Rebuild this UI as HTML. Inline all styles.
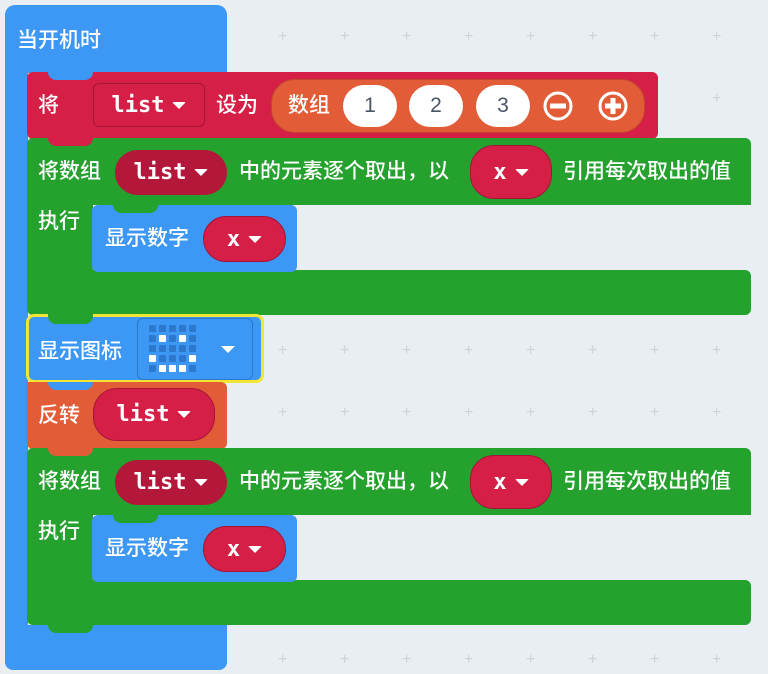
<!DOCTYPE html>
<html><head><meta charset="utf-8"><style>
body{margin:0;width:768px;height:674px;overflow:hidden;background:#e9eef2;position:relative;font-family:"Liberation Sans","Noto Sans CJK SC",sans-serif;}
.a{position:absolute;box-sizing:border-box}
.t{position:absolute;color:#fff;font-size:21px;line-height:24px;white-space:nowrap;font-weight:500}
.pl{position:absolute;color:#cdd3d8;font-size:16px;line-height:16px}
.blue{background:#3d98f5}
.red{background:#d61f47}
.green{background:#25a12e}
.org{background:#e15c37}
.pill{position:absolute;box-sizing:border-box;border-radius:24px;color:#fff;font-size:21px;display:flex;align-items:center;justify-content:center}
.mono{font-family:"DejaVu Sans Mono","Liberation Mono",monospace;font-weight:bold;font-size:22px}
.arr{display:inline-block;width:0;height:0;border-left:7px solid transparent;border-right:7px solid transparent;border-top:7px solid #fff;margin-left:8px;border-radius:2px}
.notch{position:absolute;width:45px;height:8px;border-radius:0 0 8px 8px}
.c{position:absolute;width:7px;height:7px;border-radius:1px;background:#2b78cc}
.c.on{background:#fff}
</style></head><body>
<!-- hat -->
<div class="a blue" style="left:5px;top:5px;width:222px;height:68px;border-radius:10px 10px 0 0"></div>
<div class="a blue" style="left:5px;top:72px;width:23px;height:560px"></div>
<div class="a blue" style="left:5px;top:625px;width:222px;height:45px;border-radius:0 0 8px 8px"></div>
<div class="t" style="left:17px;top:29px">当开机时</div>

<!-- set block -->
<div class="a red" style="left:27px;top:72px;width:631px;height:67px;border-radius:6px"></div>
<div class="notch blue" style="left:48px;top:72px"></div>
<div class="t" style="left:38px;top:94px">将</div>
<div class="a" style="left:93px;top:83px;width:112px;height:44px;border:1px solid #a3163a;border-radius:6px"></div>
<div class="pill mono" style="left:93px;top:83px;width:112px;height:44px">list<span class="arr"></span></div>
<div class="t" style="left:216px;top:94px">设为</div>
<div class="pill" style="left:271px;top:79px;width:374px;height:54px;background:#e15c37;border:1px solid #c04a2a"></div>
<div class="t" style="left:288px;top:94px">数组</div>
<div class="pill" style="left:343px;top:85px;width:54px;height:42px;background:#fff;color:#4a5568">1</div>
<div class="pill" style="left:409px;top:85px;width:54px;height:42px;background:#fff;color:#4a5568">2</div>
<div class="pill" style="left:476px;top:85px;width:54px;height:42px;background:#fff;color:#4a5568">3</div>
<svg class="a" style="left:540px;top:88px" width="90" height="36"><circle cx="18" cy="18" r="13" fill="none" stroke="#fff" stroke-width="3"/><rect x="10" y="15.5" width="16" height="5" fill="#fff"/><circle cx="73" cy="18" r="13" fill="none" stroke="#fff" stroke-width="3"/><rect x="65" y="15.5" width="16" height="5" fill="#fff"/><rect x="70.5" y="10" width="5" height="16" fill="#fff"/></svg>

<!-- for each 1 -->
<div class="a green" style="left:27px;top:138px;width:724px;height:67px;border-radius:6px 6px 0 6px"></div>
<div class="notch red" style="left:48px;top:138px"></div>
<div class="a green" style="left:27px;top:200px;width:66px;height:75px"></div>
<div class="a green" style="left:27px;top:270px;width:724px;height:45px;border-radius:0 6px 6px 6px"></div>
<div class="t" style="left:38px;top:160px">将数组</div>
<div class="pill mono" style="left:115px;top:150px;width:112px;height:45px;background:#b3173a">list<span class="arr"></span></div>
<div class="t" style="left:239px;top:160px">中的元素逐个取出，以</div>
<div class="pill mono" style="left:470px;top:145px;width:82px;height:54px;background:#d61f47;border:1px solid #a3163a">x<span class="arr"></span></div>
<div class="t" style="left:563px;top:160px">引用每次取出的值</div>
<div class="t" style="left:38px;top:210px">执行</div>
<div class="a blue" style="left:92px;top:205px;width:205px;height:67px;border-radius:6px"></div>
<div class="notch green" style="left:113px;top:205px"></div>
<div class="t" style="left:105px;top:227px">显示数字</div>
<div class="pill mono" style="left:203px;top:216px;width:83px;height:46px;background:#d61f47;border:1px solid #a3163a">x<span class="arr"></span></div>

<!-- show icon -->
<div class="a blue" style="left:26px;top:314px;width:238px;height:69px;border:3px solid #f2e535;border-radius:8px"></div>
<div class="notch green" style="left:48px;top:314px;height:10px"></div>
<div class="t" style="left:38px;top:340px">显示图标</div>
<div class="a" style="left:137px;top:318px;width:116px;height:62px;border:1px solid #2b78cc;border-radius:6px"></div>
<div class="a" style="left:221px;top:346px;width:0;height:0;border-left:7px solid transparent;border-right:7px solid transparent;border-top:7px solid #fff"></div>

<!-- reverse -->
<div class="a org" style="left:27px;top:382px;width:200px;height:67px;border-radius:0 6px 6px 6px"></div>
<div class="notch blue" style="left:48px;top:382px"></div>
<div class="t" style="left:38px;top:404px">反转</div>
<div class="pill mono" style="left:93px;top:388px;width:122px;height:53px;background:#d61f47;border:1px solid #a3163a">list<span class="arr"></span></div>

<!-- for each 2 -->
<div class="a green" style="left:27px;top:448px;width:724px;height:67px;border-radius:6px 6px 0 6px"></div>
<div class="notch org" style="left:48px;top:448px"></div>
<div class="a green" style="left:27px;top:510px;width:66px;height:75px"></div>
<div class="a green" style="left:27px;top:580px;width:724px;height:45px;border-radius:0 6px 6px 6px"></div>
<div class="notch green" style="left:48px;top:625px"></div>
<div class="t" style="left:38px;top:470px">将数组</div>
<div class="pill mono" style="left:115px;top:460px;width:112px;height:45px;background:#b3173a">list<span class="arr"></span></div>
<div class="t" style="left:239px;top:470px">中的元素逐个取出，以</div>
<div class="pill mono" style="left:470px;top:455px;width:82px;height:54px;background:#d61f47;border:1px solid #a3163a">x<span class="arr"></span></div>
<div class="t" style="left:563px;top:470px">引用每次取出的值</div>
<div class="t" style="left:38px;top:520px">执行</div>
<div class="a blue" style="left:92px;top:515px;width:205px;height:67px;border-radius:6px"></div>
<div class="notch green" style="left:113px;top:515px"></div>
<div class="t" style="left:105px;top:537px">显示数字</div>
<div class="pill mono" style="left:203px;top:526px;width:83px;height:46px;background:#d61f47;border:1px solid #a3163a">x<span class="arr"></span></div>

<div class="pl" style="left:278px;top:29px">+</div><div class="pl" style="left:340px;top:29px">+</div><div class="pl" style="left:402px;top:29px">+</div><div class="pl" style="left:464px;top:29px">+</div><div class="pl" style="left:526px;top:29px">+</div><div class="pl" style="left:588px;top:29px">+</div><div class="pl" style="left:650px;top:29px">+</div><div class="pl" style="left:712px;top:29px">+</div>
<div class="pl" style="left:712px;top:91px">+</div>
<div class="pl" style="left:278px;top:343px">+</div><div class="pl" style="left:340px;top:343px">+</div><div class="pl" style="left:402px;top:343px">+</div><div class="pl" style="left:464px;top:343px">+</div><div class="pl" style="left:526px;top:343px">+</div><div class="pl" style="left:588px;top:343px">+</div><div class="pl" style="left:650px;top:343px">+</div><div class="pl" style="left:712px;top:343px">+</div>
<div class="pl" style="left:278px;top:405px">+</div><div class="pl" style="left:340px;top:405px">+</div><div class="pl" style="left:402px;top:405px">+</div><div class="pl" style="left:464px;top:405px">+</div><div class="pl" style="left:526px;top:405px">+</div><div class="pl" style="left:588px;top:405px">+</div><div class="pl" style="left:650px;top:405px">+</div><div class="pl" style="left:712px;top:405px">+</div>
<div class="pl" style="left:278px;top:652px">+</div><div class="pl" style="left:340px;top:652px">+</div><div class="pl" style="left:402px;top:652px">+</div><div class="pl" style="left:464px;top:652px">+</div><div class="pl" style="left:526px;top:652px">+</div><div class="pl" style="left:588px;top:652px">+</div><div class="pl" style="left:650px;top:652px">+</div><div class="pl" style="left:712px;top:652px">+</div>

<div class="c" style="left:149px;top:325px"></div><div class="c" style="left:159px;top:325px"></div><div class="c" style="left:169px;top:325px"></div><div class="c" style="left:179px;top:325px"></div><div class="c" style="left:189px;top:325px"></div>
<div class="c" style="left:149px;top:335px"></div><div class="c on" style="left:159px;top:335px"></div><div class="c" style="left:169px;top:335px"></div><div class="c on" style="left:179px;top:335px"></div><div class="c" style="left:189px;top:335px"></div>
<div class="c" style="left:149px;top:345px"></div><div class="c" style="left:159px;top:345px"></div><div class="c" style="left:169px;top:345px"></div><div class="c" style="left:179px;top:345px"></div><div class="c" style="left:189px;top:345px"></div>
<div class="c on" style="left:149px;top:355px"></div><div class="c" style="left:159px;top:355px"></div><div class="c" style="left:169px;top:355px"></div><div class="c" style="left:179px;top:355px"></div><div class="c on" style="left:189px;top:355px"></div>
<div class="c" style="left:149px;top:365px"></div><div class="c on" style="left:159px;top:365px"></div><div class="c on" style="left:169px;top:365px"></div><div class="c on" style="left:179px;top:365px"></div><div class="c" style="left:189px;top:365px"></div>
</body></html>
